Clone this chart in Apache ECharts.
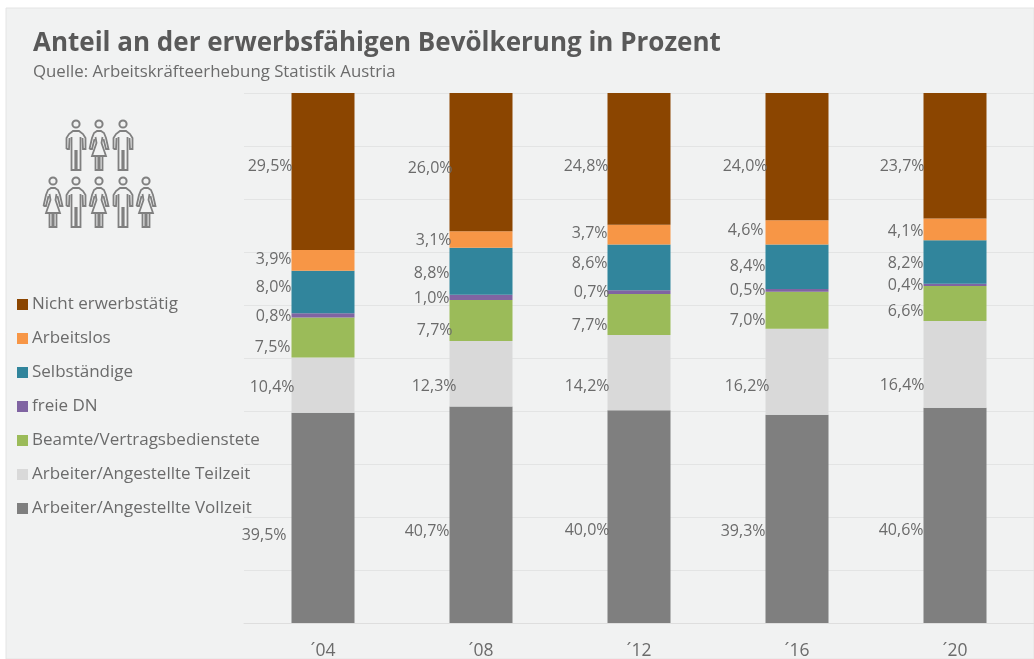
<!DOCTYPE html>
<html>
<head>
<meta charset="utf-8">
<title>Anteil an der erwerbsfähigen Bevölkerung</title>
<script src="https://cdn.jsdelivr.net/npm/echarts@6/dist/echarts.min.js"></script>
<style>
  html, body { margin: 0; padding: 0; background: #fff; }
  #main { width: 1034px; height: 659px; }
</style>
</head>
<body>
<div id="main"></div>
<script>
// Jahre und Werte (von unten nach oben gestapelt)
const years = ['´04', '´08', '´12', '´16', '´20']
const vollzeit = [39.5, 40.7, 40.0, 39.3, 40.6]
const teilzeit = [10.4, 12.3, 14.2, 16.2, 16.4]
const beamte = [7.5, 7.7, 7.7, 7.0, 6.6]
const freieDN = [0.8, 1.0, 0.7, 0.5, 0.4]
const selbstaendige = [8.0, 8.8, 8.6, 8.4, 8.2]
const arbeitslos = [3.9, 3.1, 3.7, 4.6, 4.1]
const nichtErwerb = [29.5, 26.0, 24.8, 24.0, 23.7]

const allSeries = [
  { name: 'Arbeiter/Angestellte Vollzeit', values: vollzeit, color: '#7f7f7f', dx: [-5, 0, 2, 0, 0], dy: [18, 17, 14, 13, 15] },
  { name: 'Arbeiter/Angestellte Teilzeit', values: teilzeit, color: '#d9d9d9', dx: [3, 7, 2, 4, 1], dy: [2, 13, 14, 15, 21] },
  { name: 'Beamte/Vertragsbedienstete', values: beamte, color: '#9bbb59', dx: [-1, 3, 0, 0, 0], dy: [10, 10, 11, 10, 8] },
  { name: 'freie DN', values: freieDN, color: '#8064a2', dx: [0, 0, 2, 0, 0], dy: [1, 1, 0, 0, 1] },
  { name: 'Selbständige', values: selbstaendige, color: '#31859c', dx: [0, 0, 0, 0, 0], dy: [-5, 2, -4, 0, 1] },
  { name: 'Arbeitslos', values: arbeitslos, color: '#f79646', dx: [0, 2, 0, -2, 0], dy: [-1, 1, -1, -2, 2] },
  { name: 'Nicht erwerbstätig', values: nichtErwerb, color: '#8b4500', dx: [1, 3, 1, 2, 1], dy: [-5, 6, 8, 10, 11] }
]

// Summe je Jahr, die Säulen laufen immer bis 100 %
const totals = years.map((y, i) => allSeries.reduce((sum, s) => sum + s.values[i], 0))

const labelText = v => v.toFixed(1).replace('.', ',') + '%'

// Piktogramm: Mann / Frau, als einzelne Linienzüge
const manLines = [
  [[-9.5, 29], [-9.5, 18], [-7, 14], [-3, 11], [3, 11], [7, 14], [9.5, 18], [9.5, 29], [7, 29], [6.5, 18]],
  [[-6.5, 18], [-7, 29], [-9.5, 29]],
  [[-4.5, 17], [-4.5, 50], [-0.7, 50], [-0.7, 31], [0.7, 31], [0.7, 50], [4.5, 50], [4.5, 17]]
]
const womanLines = [
  [[-9.5, 29], [-7, 18], [-5, 13], [-2, 11], [2, 11], [5, 13], [7, 18], [9.5, 29], [7, 29], [4.5, 19]],
  [[-4.5, 19], [-7, 29], [-9.5, 29]],
  [[-3.5, 17], [-2.5, 23], [-7, 36], [7, 36], [2.5, 23], [3.5, 17]],
  [[-3.5, 36], [-3.5, 50], [-0.7, 50], [-0.7, 36]],
  [[0.7, 36], [0.7, 50], [3.5, 50], [3.5, 36]]
]
const people = [
  [76, 120, 0], [99, 120, 1], [123, 120, 0],
  [53, 177, 1], [76, 177, 0], [99, 177, 1], [123, 177, 0], [146, 177, 1]
]
const peopleGraphic = []
people.forEach(p => {
  peopleGraphic.push({
    type: 'circle', x: p[0], y: p[1], shape: { cx: 0, cy: 4, r: 3.6 },
    style: { fill: 'none', stroke: '#808080', lineWidth: 2 }
  })
  const lines = p[2] ? womanLines : manLines
  lines.forEach(pts => {
    peopleGraphic.push({
      type: 'polyline', x: p[0], y: p[1],
      shape: { points: pts },
      style: { fill: 'none', stroke: '#808080', lineWidth: 1.8 }
    })
  })
})

const myChart = echarts.init(document.querySelector('#main'))
const option = {
  backgroundColor: '#fff',
  animation: false,
  textStyle: { fontFamily: '"Open Sans", sans-serif' },
  title: {
    text: 'Anteil an der erwerbsfähigen Bevölkerung in Prozent',
    subtext: 'Quelle: Arbeitskräfteerhebung Statistik Austria',
    left: 28,
    top: 26,
    itemGap: 7,
    textStyle: { fontFamily: '"Open Sans"', fontSize: 26, fontWeight: 'bold', color: '#595959' },
    subtextStyle: { fontFamily: '"Open Sans"', fontSize: 16.8, color: '#6b6b6b' }
  },
  legend: {
    orient: 'vertical',
    left: 12,
    top: 291,
    icon: 'rect',
    itemWidth: 11,
    itemHeight: 11,
    itemGap: 17,
    selectedMode: false,
    data: allSeries.map(s => s.name).reverse(),
    textStyle: { fontFamily: '"Open Sans"', fontSize: 17, color: '#6b6b6b', padding: [0, 0, 0, -1] }
  },
  grid: { left: 244, right: 0, top: 93, bottom: 36, outerBoundsMode: 'none' },
  xAxis: {
    type: 'category',
    data: years,
    axisTick: { show: false },
    axisLine: { lineStyle: { color: '#dedede' } },
    axisLabel: { color: '#6b6b6b', fontFamily: '"Open Sans"', fontSize: 17.5, margin: 19 }
  },
  yAxis: {
    type: 'value',
    min: 0,
    max: 100,
    interval: 10,
    axisLabel: { show: false },
    axisLine: { show: false },
    axisTick: { show: false },
    splitLine: { lineStyle: { color: '#e3e4e4' } }
  },
  series: allSeries.map(s => ({
    name: s.name,
    type: 'bar',
    stack: 'anteil',
    barWidth: 63,
    itemStyle: { color: s.color },
    data: s.values.map((v, i) => ({
      value: v / totals[i] * 100,
      label: {
        show: true,
        position: 'left',
        distance: 0,
        offset: [s.dx[i], s.dy[i]],
        formatter: labelText(v),
        fontFamily: '"Open Sans"',
        fontSize: 16,
        color: '#6b6b6b'
      }
    }))
  })),
  graphic: [
    {
      type: 'rect', silent: true, z: -10,
      shape: { x: 6, y: 8, width: 1028, height: 651 },
      style: { fill: '#f1f2f2', stroke: '#e4e4e4', lineWidth: 1 }
    }
  ].concat(peopleGraphic)
}
myChart.setOption(option)
</script>
</body>
</html>
